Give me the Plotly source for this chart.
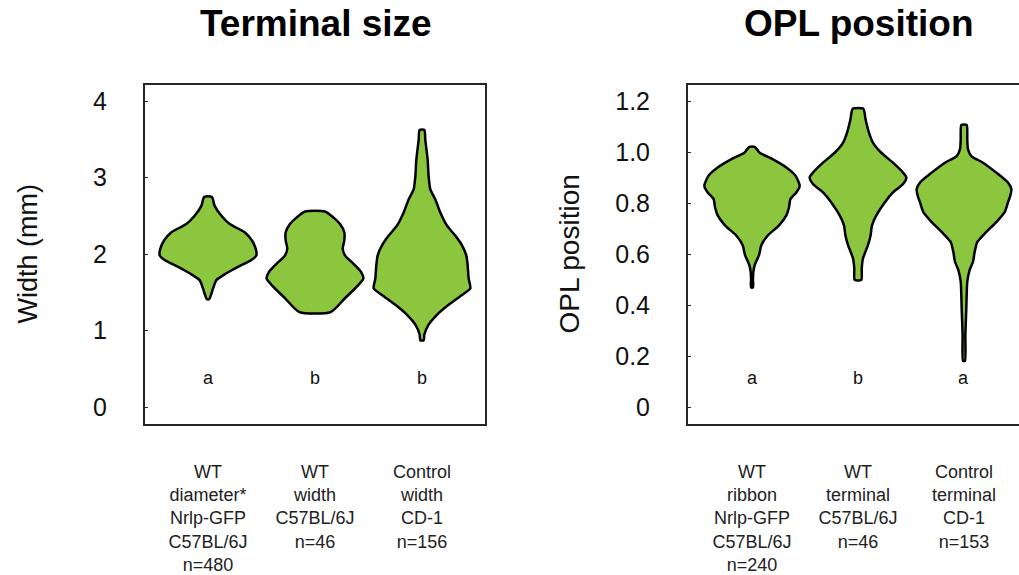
import plotly.graph_objects as go

# ---------------- data ----------------
size_categories = ["WT<br>diameter*<br>Nrlp-GFP<br>C57BL/6J<br>n=480",
                   "WT<br>width<br>C57BL/6J<br>n=46",
                   "Control<br>width<br>CD-1<br>n=156"]
opl_categories = ["WT<br>ribbon<br>Nrlp-GFP<br>C57BL/6J<br>n=240",
                  "WT<br>terminal<br>C57BL/6J<br>n=46",
                  "Control<br>terminal<br>CD-1<br>n=153"]
size_letters = ["a", "b", "b"]
opl_letters = ["a", "b", "a"]

size_ticks = [0, 1, 2, 3, 4]
size_ticktext = ["0", "1", "2", "3", "4"]
opl_ticks = [0, 0.2, 0.4, 0.6, 0.8, 1.0, 1.2]
opl_ticktext = ["0", "0.2", "0.4", "0.6", "0.8", "1.0", "1.2"]

# violin density profiles: value levels (top -> bottom) and half-widths
wt_diameter_levels = [2.747, 2.630, 2.501, 2.393, 2.285, 2.178, 2.070, 1.984, 1.919, 1.833, 1.746, 1.660, 1.552, 1.414]
wt_diameter_hw = [0.036, 0.062, 0.125, 0.203, 0.343, 0.411, 0.446, 0.452, 0.402, 0.280, 0.168, 0.078, 0.047, 0.012]

wt_width_levels = [2.557, 2.480, 2.393, 2.285, 2.178, 2.070, 1.984, 1.876, 1.768, 1.682, 1.595, 1.423, 1.242]
wt_width_hw = [0.093, 0.171, 0.234, 0.274, 0.274, 0.259, 0.280, 0.358, 0.430, 0.452, 0.405, 0.280, 0.146]

ctrl_width_levels = [3.622, 3.493, 3.234, 3.018, 2.846, 2.717, 2.544, 2.372, 2.242, 2.113, 1.984, 1.854,
                     1.682, 1.552, 1.466, 1.337, 1.207, 1.078, 0.949, 0.875]
ctrl_width_hw = [0.022, 0.031, 0.053, 0.062, 0.078, 0.124, 0.171, 0.234, 0.311, 0.374, 0.414, 0.427,
                 0.436, 0.452, 0.374, 0.249, 0.140, 0.062, 0.022, 0.016]

wt_ribbon_levels = [1.0225, 0.999, 0.973, 0.941, 0.908, 0.869, 0.843, 0.817, 0.785, 0.753, 0.714, 0.675,
                    0.636, 0.597, 0.558, 0.532, 0.506, 0.470]
wt_ribbon_hw = [0.025, 0.072, 0.198, 0.324, 0.412, 0.450, 0.418, 0.362, 0.349, 0.324, 0.255, 0.151,
                0.088, 0.066, 0.025, 0.013, 0.009, 0.009]

wt_terminal_levels = [1.1717, 1.1288, 1.077, 1.038, 0.999, 0.960, 0.921, 0.902, 0.876, 0.843, 0.804, 0.753,
                      0.714, 0.675, 0.636, 0.584, 0.545, 0.4995]
wt_terminal_hw = [0.050, 0.072, 0.104, 0.142, 0.220, 0.330, 0.425, 0.456, 0.425, 0.330, 0.252, 0.173,
                  0.132, 0.119, 0.094, 0.047, 0.035, 0.031]

ctrl_terminal_levels = [1.108, 1.051, 1.012, 0.986, 0.960, 0.921, 0.882, 0.856, 0.830, 0.804, 0.766, 0.727,
                        0.688, 0.649, 0.610, 0.571, 0.538, 0.493, 0.389, 0.285, 0.182]
ctrl_terminal_hw = [0.025, 0.031, 0.038, 0.069, 0.179, 0.305, 0.415, 0.447, 0.437, 0.415, 0.384, 0.305,
                    0.211, 0.126, 0.101, 0.085, 0.053, 0.031, 0.022, 0.013, 0.009]

size_profiles = [(wt_diameter_levels, wt_diameter_hw), (wt_width_levels, wt_width_hw),
                 (ctrl_width_levels, ctrl_width_hw)]
opl_profiles = [(wt_ribbon_levels, wt_ribbon_hw), (wt_terminal_levels, wt_terminal_hw),
                (ctrl_terminal_levels, ctrl_terminal_hw)]

# ---------------- styling ----------------
FILL = "#8CC63F"
AXC = "#262626"
FONT = "Arial, Liberation Sans, sans-serif"
W, H = 1019, 575


def outline(center, levels, hw):
    xs = [center + w for w in hw] + [center - w for w in reversed(hw)] + [center + hw[0]]
    ys = list(levels) + list(reversed(levels)) + [levels[0]]
    return xs, ys


fig = go.Figure()
for idx, (lv, hw) in enumerate(size_profiles):
    xs, ys = outline(idx, lv, hw)
    fig.add_trace(go.Scatter(x=xs, y=ys, mode="lines", fill="toself", fillcolor=FILL,
                             line=dict(color="black", width=2.5, shape="spline", smoothing=0.6),
                             hoverinfo="skip", showlegend=False, xaxis="x", yaxis="y"))
for idx, (lv, hw) in enumerate(opl_profiles):
    xs, ys = outline(idx, lv, hw)
    fig.add_trace(go.Scatter(x=xs, y=ys, mode="lines", fill="toself", fillcolor=FILL,
                             line=dict(color="black", width=2.5, shape="spline", smoothing=0.6),
                             hoverinfo="skip", showlegend=False, xaxis="x2", yaxis="y2"))

xcommon = dict(showgrid=False, zeroline=False, showline=True, mirror=True, linecolor=AXC, linewidth=2,
               ticks="", tickmode="array", tickvals=[0, 1, 2], ticklabelstandoff=30,
               tickfont=dict(family=FONT, size=18, color="#222"))
ycommon = dict(showgrid=False, zeroline=False, showline=True, linecolor=AXC, linewidth=2,
               ticks="inside", ticklen=3, tickwidth=1, tickcolor=AXC, tickmode="array",
               ticklabelstandoff=31, tickfont=dict(family=FONT, size=25, color="#111"))

fig.update_layout(
    width=W, height=H, autosize=False,
    margin=dict(l=0, r=0, t=85, b=148),
    plot_bgcolor="white", paper_bgcolor="white",
    xaxis=dict(domain=[145 / W, 485 / W], range=[-0.589, 2.589], ticktext=size_categories, **xcommon),
    yaxis=dict(range=[-0.22, 4.21], tickvals=size_ticks, ticktext=size_ticktext, mirror=True, **ycommon),
    xaxis2=dict(domain=[688 / W, 1.0], range=[-0.604, 2.519], ticktext=opl_categories,
                anchor="y2", **xcommon),
    yaxis2=dict(range=[-0.066, 1.265], tickvals=opl_ticks, ticktext=opl_ticktext, mirror=False,
                anchor="x2", **ycommon),
)

ann = []
for i, t in enumerate(size_letters):
    ann.append(dict(x=i, y=0.137, xref="x", yref="y domain", text=t, showarrow=False,
                    font=dict(family=FONT, size=18, color="#111"), xanchor="center", yanchor="middle"))
for i, t in enumerate(opl_letters):
    ann.append(dict(x=i, y=0.137, xref="x2", yref="y2 domain", text=t, showarrow=False,
                    font=dict(family=FONT, size=18, color="#111"), xanchor="center", yanchor="middle"))

ann.append(dict(x=316 / W, y=(427 - 23) / 342, xref="paper", yref="paper", text="<b>Terminal size</b>",
                showarrow=False, font=dict(family=FONT, size=37, color="black"),
                xanchor="center", yanchor="middle"))
ann.append(dict(x=859 / W, y=(427 - 23) / 342, xref="paper", yref="paper", text="<b>OPL position</b>",
                showarrow=False, font=dict(family=FONT, size=37, color="black"),
                xanchor="center", yanchor="middle"))
ann.append(dict(x=27 / W, y=0.5, xref="paper", yref="paper", text="Width (mm)", textangle=-90,
                showarrow=False, font=dict(family=FONT, size=27, color="#111"),
                xanchor="center", yanchor="middle"))
ann.append(dict(x=569 / W, y=0.5, xref="paper", yref="paper", text="OPL position", textangle=-90,
                showarrow=False, font=dict(family=FONT, size=28, color="#111"),
                xanchor="center", yanchor="middle"))
fig.update_layout(annotations=ann)

fig.write_html("out.html")
